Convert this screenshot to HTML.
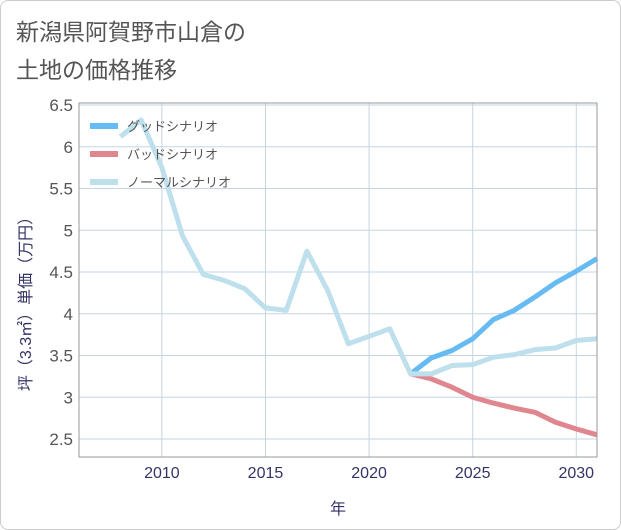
<!DOCTYPE html>
<html><head><meta charset="utf-8"><style>
body{margin:0;background:#fff;font-family:"Liberation Sans","Noto Sans CJK JP",sans-serif}
#wrap{position:relative;width:619px;height:528px;border:1px solid #ccc;border-radius:8px;overflow:hidden;background:#fff}
</style></head><body>
<div id="wrap">
<svg id="c" width="621" height="530" xmlns="http://www.w3.org/2000/svg" style="position:absolute;left:-1px;top:-1px">
<text x="16" y="40" font-size="23" fill="#555">新潟県阿賀野市山倉の</text>
<text x="16" y="78" font-size="23" fill="#555">土地の価格推移</text>
<g id="grid"></g><g id="lines"></g>
<rect x="79" y="103" width="518" height="354" fill="none" stroke="#999"/>
<text x="338" y="514" font-size="16" fill="#336" text-anchor="middle">年</text>
<text transform="translate(31,300) rotate(-90)" font-size="16" fill="#336" text-anchor="middle">坪（3.3㎡）単価（万円）</text>
<g id="legend"></g>
</svg>
</div>
<script>
const years=[2008,2009,2010,2011,2012,2013,2014,2015,2016,2017,2018,2019,2020,2021,2022,2023,2024,2025,2026,2027,2028,2029,2030,2031];
const normal=[6.12,6.32,5.75,4.93,4.47,4.4,4.3,4.07,4.04,4.75,4.28,3.64,3.73,3.82,3.28,3.28,3.38,3.39,3.48,3.51,3.57,3.59,3.68,3.7];
const futureYears=[2022,2023,2024,2025,2026,2027,2028,2029,2030,2031];
const good=[3.28,3.47,3.56,3.7,3.93,4.04,4.2,4.37,4.51,4.66];
const bad=[3.28,3.22,3.12,3.0,2.93,2.87,2.82,2.7,2.62,2.55];
const xTicks=[2010,2015,2020,2025,2030];
const yTicks=[2.5,3,3.5,4,4.5,5,5.5,6,6.5];
const X0=79,X1=597,Y0=457,Y1=103;
const x=v=>X0+(v-2006)/(2031-2006)*(X1-X0);
const y=v=>439-(v-2.5)*83.5;
const NS="http://www.w3.org/2000/svg";
function mk(t,a,p){const e=document.createElementNS(NS,t);for(const k in a)e.setAttribute(k,a[k]);p.appendChild(e);return e;}
const g=document.getElementById('grid');
xTicks.forEach(t=>{const l=mk('line',{x1:x(t),x2:x(t),y1:Y1,y2:Y0,stroke:'#c5d5e3','stroke-width':1},g);
});
yTicks.forEach(t=>{const l=mk('line',{x1:X0,x2:X1,y1:y(t),y2:y(t),stroke:'#c5d5e3'},g);
});
xTicks.forEach(t=>{const e=mk('text',{x:x(t),y:478,'font-size':16,fill:'#336','text-anchor':'middle'},g);e.textContent=t;
});
yTicks.forEach(t=>{const e=mk('text',{x:73,y:y(t)+6,'font-size':17,fill:'#555','text-anchor':'end'},g);e.textContent=t;
});
const L=document.getElementById('lines');
function line(xs,vs,c,name){const p=mk('polyline',{points:xs.map((t,i)=>x(t)+','+y(vs[i])).join(' '),fill:'none',stroke:c,'stroke-width':5,'stroke-linejoin':'round'},L);
}
line(futureYears,bad,'#e0868f','bad-scenario-line');
line(futureYears,good,'#66bbf2','good-scenario-line');
line(years,normal,'#bee0ec','normal-scenario-line');
const lg=document.getElementById('legend');
[['グッドシナリオ','#66bbf2'],['バッドシナリオ','#e0868f'],['ノーマルシナリオ','#bee0ec']].forEach((d,i)=>{
const yy=126+i*28;
const r=mk('line',{x1:90,x2:118,y1:yy,y2:yy,stroke:d[1],'stroke-width':6},lg);

const t=mk('text',{x:127,y:yy+5,'font-size':13,fill:'#555'},lg);t.textContent=d[0];
});
</script>
</body></html>
